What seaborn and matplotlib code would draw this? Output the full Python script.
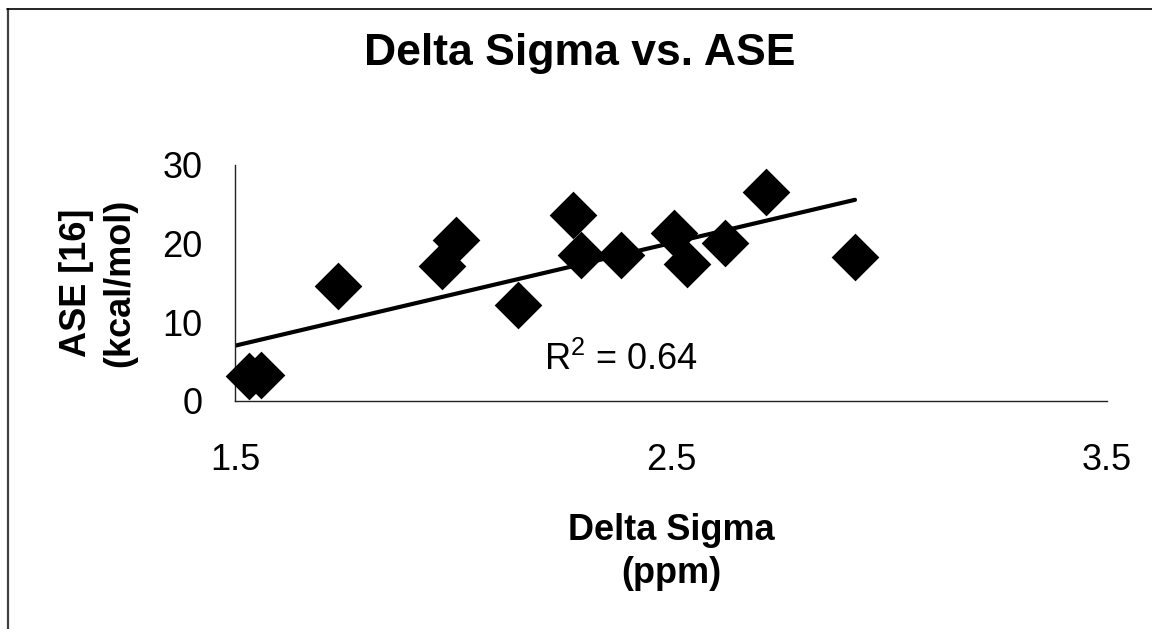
import numpy as np
import matplotlib
matplotlib.use("Agg")
import matplotlib.pyplot as plt
from matplotlib.lines import Line2D
import seaborn as sns

# Measured chemical-shift differences and strain energies
delta_sigma = [1.533, 1.560, 1.737, 1.974, 2.006, 2.150, 2.276, 2.293,
               2.385, 2.508, 2.536, 2.624, 2.717, 2.922]
ase = [3.1, 3.3, 14.6, 17.1, 20.5, 12.2, 23.6, 18.6,
       18.6, 21.4, 17.4, 20.1, 26.6, 18.3]

# Reported linear trendline and its coefficient of determination
trend_slope = 13.06
trend_intercept = -12.59
r_squared = 0.64

x_ticks = [1.5, 2.5, 3.5]
y_ticks = [0, 10, 20, 30]

sns.set_theme(style="white")
plt.rcParams["font.family"] = ["Liberation Sans", "DejaVu Sans"]
plt.rcParams["mathtext.fontset"] = "custom"
plt.rcParams["mathtext.rm"] = "Liberation Sans"
plt.rcParams["mathtext.it"] = "Liberation Sans"
plt.rcParams["text.color"] = "black"
plt.rcParams["axes.labelcolor"] = "black"

W, H = 1152, 629
fig = plt.figure(figsize=(W / 100, H / 100), dpi=100)
fig.patch.set_facecolor("white")
ax = fig.add_axes([235 / W, 1 - 400.7 / H, (1107 - 235) / W, (400.7 - 165) / H])

# Trendline spans from the axis start to the last measurement
line_x = np.array([x_ticks[0], max(delta_sigma)])
sns.lineplot(x=line_x, y=trend_slope * line_x + trend_intercept, ax=ax,
             color="black", linewidth=3.0, zorder=2)
sns.scatterplot(x=delta_sigma, y=ase, ax=ax, marker="D", s=590,
                color="black", edgecolor="black", linewidth=0, zorder=3,
                clip_on=False)

ax.set_xlim(x_ticks[0], x_ticks[-1])
ax.set_ylim(y_ticks[0], y_ticks[-1])
ax.set_xticks(x_ticks)
ax.set_xticklabels([f"{v:.1f}" for v in x_ticks])
ax.set_yticks(y_ticks)
ax.set_yticklabels([str(v) for v in y_ticks])

for side in ["top", "right"]:
    ax.spines[side].set_visible(False)
for side in ["left", "bottom"]:
    ax.spines[side].set_color("#222222")
    ax.spines[side].set_linewidth(1.0)

ax.tick_params(axis="both", direction="out", length=8.6, width=1.0,
               color="#222222", labelsize=26, labelcolor="black")
ax.tick_params(axis="y", pad=15)
ax.tick_params(axis="x", pad=22)
ax.set_facecolor("white")

ax.set_xlabel("Delta Sigma\n(ppm)", fontsize=26, fontweight="bold",
              linespacing=1.3, labelpad=25)
ax.set_ylabel("ASE [16]\n(kcal/mol)", fontsize=26, fontweight="bold",
              linespacing=1.3, labelpad=18)

ax.text(2.209, 3.9, f"R$^2$ = {r_squared:.2f}", fontsize=26, ha="left",
        va="baseline", color="black")

fig.text(580 / W, 1 - 54 / H, "Delta Sigma vs. ASE", fontsize=32,
         fontweight="bold", ha="center", va="center", color="black")

# Chart-area frame
fig.add_artist(Line2D([7.5 / W, 7.5 / W], [0, 1 - 9 / H],
                      transform=fig.transFigure, color="#404040", lw=1.6))
fig.add_artist(Line2D([7 / W, 1], [1 - 9 / H, 1 - 9 / H],
                      transform=fig.transFigure, color="black", lw=1.2))

fig.savefig("out.png", dpi=100)
